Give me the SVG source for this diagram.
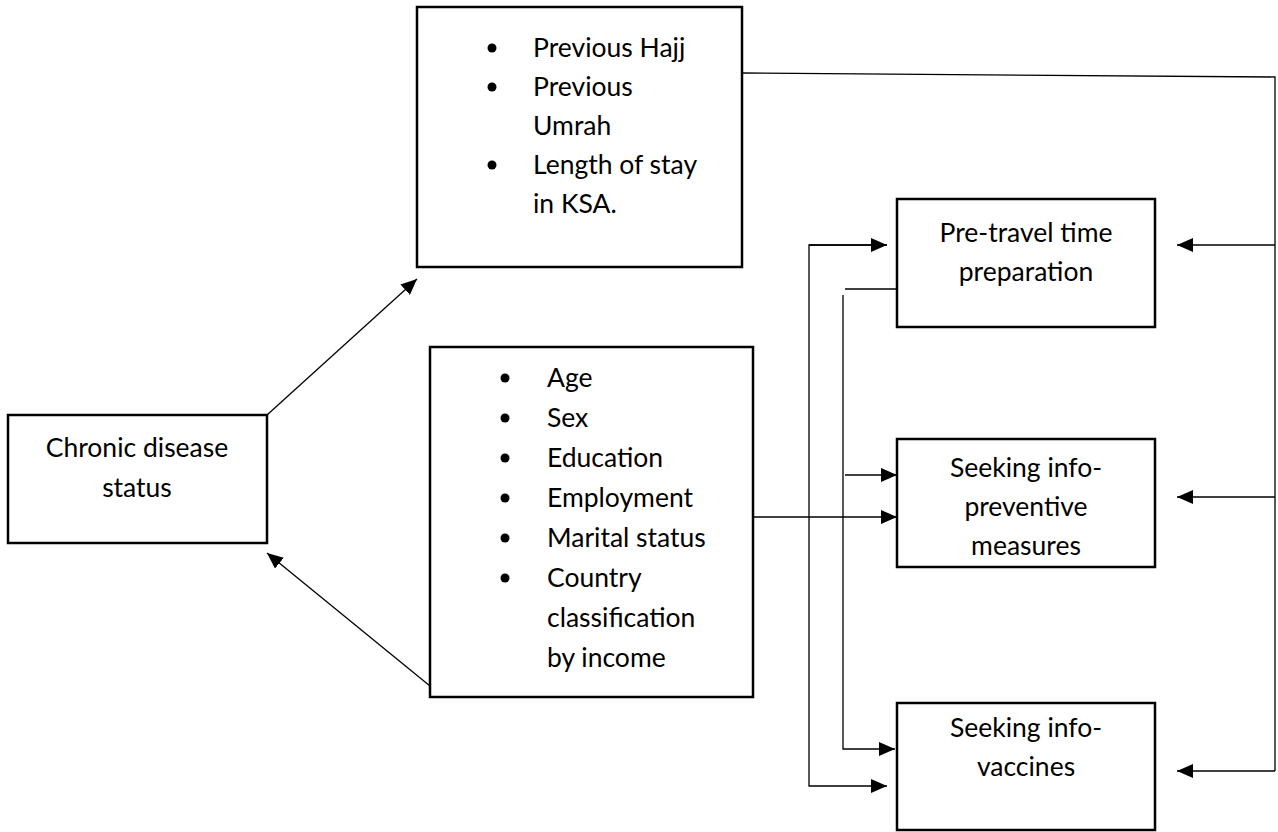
<svg xmlns="http://www.w3.org/2000/svg" width="1278" height="832" viewBox="0 0 1278 832">
<style>
  .box { fill: #ffffff; stroke: #000000; stroke-width: 2.5; }
  .t { font-family: Lato, "Open Sans", "Liberation Sans", sans-serif; font-size: 26.5px; fill: #000000; }
  .c { text-anchor: middle; }
  .conn { fill: none; stroke: #000000; stroke-width: 1.3; }
  .bul { fill: #000000; }
</style>
<defs>
  <marker id="arr" markerUnits="userSpaceOnUse" markerWidth="16" markerHeight="14" refX="16" refY="7" orient="auto">
    <path d="M0,0 L16,7 L0,14 z" fill="#000000"/>
  </marker>
</defs>
<rect width="1278" height="832" fill="#ffffff"/>

<g id="connectors">
  <line class="conn" x1="267" y1="415" x2="417" y2="279" marker-end="url(#arr)"/>
  <line class="conn" x1="430" y1="686" x2="267" y2="553" marker-end="url(#arr)"/>
  <polyline class="conn" points="742,73 1275,77 1275,771"/>
  <line class="conn" x1="1275" y1="245" x2="1177" y2="245" marker-end="url(#arr)"/>
  <line class="conn" x1="1275" y1="497" x2="1177" y2="497" marker-end="url(#arr)"/>
  <line class="conn" x1="1275" y1="771" x2="1177" y2="771" marker-end="url(#arr)"/>
  <line class="conn" x1="753" y1="517" x2="897" y2="517" marker-end="url(#arr)"/>
  <line class="conn" x1="897" y1="289" x2="845" y2="289"/>
  <polyline class="conn" points="843,295 843,749 895,749" marker-end="url(#arr)"/>
  <line class="conn" x1="845" y1="475" x2="897" y2="475" marker-end="url(#arr)"/>
  <polyline class="conn" points="887,245 809,245 809,786 887,786" marker-end="url(#arr)"/>
  <line class="conn" x1="809" y1="245" x2="887" y2="245" marker-end="url(#arr)"/>
</g>

<g id="node-history">
  <rect class="box" x="417" y="7" width="325" height="260"/>
  <circle class="bul" cx="492" cy="48" r="4.5"/>
  <circle class="bul" cx="492" cy="87" r="4.5"/>
  <circle class="bul" cx="492" cy="165" r="4.5"/>
  <text class="t" x="533" y="57">Previous Hajj</text>
  <text class="t" x="533" y="96">Previous</text>
  <text class="t" x="533" y="135">Umrah</text>
  <text class="t" x="533" y="174">Length of stay</text>
  <text class="t" x="533" y="213">in KSA.</text>
</g>

<g id="node-chronic">
  <rect class="box" x="8" y="415" width="259" height="128"/>
  <text class="t c" x="137" y="457">Chronic disease</text>
  <text class="t c" x="137" y="497">status</text>
</g>

<g id="node-demographics">
  <rect class="box" x="430" y="347" width="323" height="350"/>
  <circle class="bul" cx="505" cy="378" r="4.5"/>
  <circle class="bul" cx="505" cy="418" r="4.5"/>
  <circle class="bul" cx="505" cy="458" r="4.5"/>
  <circle class="bul" cx="505" cy="498" r="4.5"/>
  <circle class="bul" cx="505" cy="538" r="4.5"/>
  <circle class="bul" cx="505" cy="578" r="4.5"/>
  <text class="t" x="547" y="387">Age</text>
  <text class="t" x="547" y="427">Sex</text>
  <text class="t" x="547" y="467">Education</text>
  <text class="t" x="547" y="507">Employment</text>
  <text class="t" x="547" y="547">Marital status</text>
  <text class="t" x="547" y="587">Country</text>
  <text class="t" x="547" y="627">classification</text>
  <text class="t" x="547" y="667">by income</text>
</g>

<g id="node-pretravel">
  <rect class="box" x="897" y="199" width="258" height="128"/>
  <text class="t c" x="1026" y="242">Pre-travel time</text>
  <text class="t c" x="1026" y="281">preparation</text>
</g>

<g id="node-preventive">
  <rect class="box" x="897" y="439" width="258" height="128"/>
  <text class="t c" x="1026" y="477">Seeking info-</text>
  <text class="t c" x="1026" y="516">preventive</text>
  <text class="t c" x="1026" y="555">measures</text>
</g>

<g id="node-vaccines">
  <rect class="box" x="897" y="703" width="258" height="127"/>
  <text class="t c" x="1026" y="737">Seeking info-</text>
  <text class="t c" x="1026" y="776">vaccines</text>
</g>
</svg>
